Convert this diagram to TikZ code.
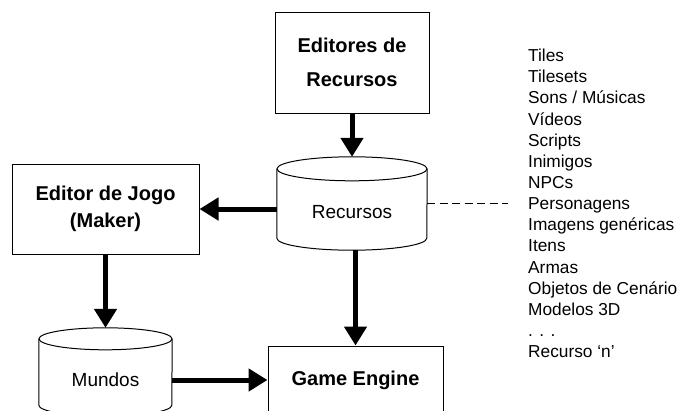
\documentclass[tikz,border=0pt]{standalone}
\usepackage{fontspec}
\setmainfont{Liberation Sans}
\usetikzlibrary{arrows.meta}
\begin{document}
\begin{tikzpicture}[x=1pt,y=-1pt,
  box/.style={draw, line width=1pt, rectangle, inner sep=0pt, align=center},
  cylbox/.style={rectangle, draw=none, inner sep=0pt},
  cyl/.style={draw, line width=1pt},
  cyllabel/.style={anchor=base, inner sep=0pt, font=\fontsize{19}{22}\selectfont},
  arr/.style={line width=5pt, -{Triangle[length=19pt,width=22pt]}},
  dashline/.style={line width=1pt, dash pattern=on 8pt off 4.5pt},
  listitem/.style={anchor=base west, inner sep=0pt, font=\fontsize{17.3}{21}\selectfont}]
\path[use as bounding box] (0,0) rectangle (682,410);
\clip (0,0) rectangle (682,410);

% boxes
\node[box, minimum width=154pt, minimum height=101pt,
      font=\fontsize{20}{34}\selectfont\bfseries] (ed) at (352,62.5) {Editores de\\Recursos};
\node[box, minimum width=187pt, minimum height=90pt,
      font=\fontsize{20}{27}\selectfont\bfseries] (ejogo) at (105.5,209) {Editor de Jogo\\(Maker)};
\node[box, minimum width=175pt, minimum height=68pt,
      font=\fontsize{20}{24}\selectfont\bfseries] (ge) at (355.5,380) {Game Engine};

% cylinder Recursos
\node[cylbox, minimum width=150pt, minimum height=93pt] (rec) at (352,203.5) {};
\draw[cyl] ([yshift=-12pt]rec.north west) -- ([yshift=12pt]rec.south west)
  arc[start angle=180, end angle=360, x radius=75pt, y radius=12pt]
  -- ([yshift=-12pt]rec.north east);
\draw[cyl] ([yshift=-12pt]rec.north) ellipse [x radius=75pt, y radius=12pt];
\node[cyllabel] (reclabel) at (352,218) {Recursos};

% cylinder Mundos
\node[cylbox, minimum width=133pt, minimum height=88pt] (mun) at (105.5,372) {};
\draw[cyl] ([yshift=-11pt]mun.north west) -- ([yshift=11pt]mun.south west)
  arc[start angle=180, end angle=360, x radius=66.5pt, y radius=11pt]
  -- ([yshift=-11pt]mun.north east);
\draw[cyl] ([yshift=-11pt]mun.north) ellipse [x radius=66.5pt, y radius=11pt];
\node[cyllabel] (munlabel) at (105.5,386) {Mundos};

% arrows
\draw[arr] (ed.south) -- (rec.north);
\draw[arr] (rec.west |- ejogo.east) -- (ejogo.east);
\draw[arr] (ejogo.south) -- (mun.north);
\draw[arr] (ge.north |- rec.south) -- (ge.north);
\draw[arr] (mun.east |- ge.west) -- (ge.west);

% dashed link to list
\coordinate (dashend) at (508,203.5);
\draw[dashline] (rec.east) -- (dashend);

% list of resources
\foreach \itm [count=\i from 0] in {Tiles, Tilesets, {Sons / Músicas}, Vídeos, Scripts,
   Inimigos, NPCs, Personagens, {Imagens genéricas}, Itens, Armas,
   {Objetos de Cenário}, {Modelos 3D}, {. . .}, {Recurso ‘n’}}
  \node[listitem] (item\i) at (528,{61.7+21.14*\i}) {\itm};
\end{tikzpicture}
\end{document}
